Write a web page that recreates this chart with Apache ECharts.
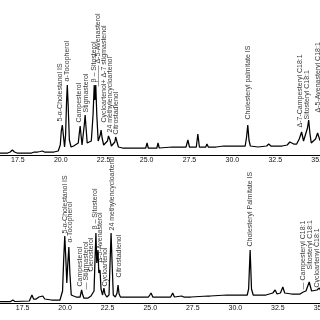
<!DOCTYPE html>
<html>
<head>
<meta charset="utf-8">
<script src="https://cdn.jsdelivr.net/npm/echarts@6/dist/echarts.min.js"></script>
<style>
html,body{margin:0;padding:0;background:#fff;}
#chart{width:320px;height:320px;}
</style>
</head>
<body>
<div id="chart"></div>
<script>
// ---- data (retention time in min, detector response in arbitrary units) ----
const topTrace = [
  [16.4,2],[16.9,2],[17.05,3],[17.18,5],[17.3,3],[17.45,2],[18.3,2],[18.45,3],[18.55,4],[18.65,3],[18.8,3.5],[18.92,4],[19.05,3],[19.6,3],[19.85,4],
  [19.97,10],[20.03,24],[20.09,30],[20.15,20],[20.22,8],
  [20.28,20],[20.34,55],[20.38,70],[20.43,50],[20.5,15],[20.6,8],[20.75,9],
  [21.02,12],[21.08,22],[21.13,29],[21.18,20],[21.24,10],
  [21.30,12],[21.37,30],[21.42,40],[21.47,28],[21.54,12],[21.65,11],[21.78,14],
  [21.88,40],[21.95,70],[21.99,55],[22.04,70],[22.10,40],[22.18,14],[22.24,13],
  [22.30,20],[22.35,25],[22.41,17],[22.50,10],[22.60,10],
  [22.72,14],[22.78,19],[22.82,20],[22.87,15],[22.95,9],[23.05,9],
  [23.15,13],[23.20,18],[23.23,18],[23.28,13],[23.36,8],[23.60,7],[23.80,7],[23.87,9],[23.95,7],
  [24.50,7],[24.95,7],[25.03,12],[25.10,7],[25.60,7],[25.67,12],[25.74,7],[26.50,8],
  [27.30,8],[27.41,15],[27.50,8],[27.90,8],[27.99,21],[28.08,8],[28.45,8],[28.52,11],[28.60,8],
  [28.90,8],[28.98,10],[29.06,8],[29.50,9],[29.56,10],[29.62,9],[29.90,9],[29.97,10],[30.05,9],
  [30.75,9],[30.83,18],[30.90,30],[30.97,15],[31.05,9],[31.50,8],[32.00,9],[32.12,11],[32.25,9],
  [32.90,9],[33.20,10],[33.35,13],[33.46,15],[33.58,11],[33.75,11],[33.90,16],[34.04,23],[34.15,14],
  [34.25,13],[34.38,27],[34.45,35],[34.52,22],[34.60,12],[34.70,10],[34.85,16],[34.97,22],[35.10,15],[35.30,12]
];
const bottomTrace = [
  [16.1,1.5],[16.8,1.5],[16.93,3],[17.05,1.5],[17.9,2],[18.05,8],[18.15,4],[18.3,4],[18.46,6],[18.55,4],[18.69,7],[18.8,4],[19.2,3],[19.7,3],
  [19.85,12],[19.92,45],[19.98,67],[20.04,45],[20.10,20],[20.16,40],[20.22,56],[20.28,30],[20.36,8],[20.42,10],[20.5,7],[20.65,6],
  [20.88,6],[20.93,10],[20.97,13],[21.02,9],[21.10,5],[21.22,5],[21.28,7],[21.35,5],[21.46,5],[21.52,7],[21.60,6],
  [21.70,12],[21.76,45],[21.81,70],[21.86,40],[21.90,48],[21.93,53],[21.98,30],[22.05,33],[22.11,14],[22.20,8],[22.28,15],[22.34,9],[22.45,6],
  [22.58,8],[22.64,40],[22.70,70],[22.76,40],[22.83,8],[22.95,6],[23.05,10],[23.11,18],[23.17,9],[23.25,6],
  [24.0,6],[24.9,6],[25.05,10],[25.15,6],[26.2,6],[26.32,10],[26.42,6],[26.85,7],[26.91,8],[26.97,6],[27.4,6],[27.44,7],[27.5,6],
  [28.4,7],[28.46,8],[28.52,7],[29.5,8],[30.3,8],[30.7,8],[30.78,14],[30.87,53],[30.95,14],[31.05,8],[31.8,8],
  [32.2,10],[32.34,13],[32.45,9],[32.65,10],[32.79,16],[32.9,10],[33.3,9],[33.8,9],[33.99,11],[34.15,12],[34.34,21],[34.48,12],
  [34.58,10],[34.8,13],[34.93,15],[35.1,10],[35.3,10]
];
const topLabelNames = ["5-α-Cholestanol IS","α-Tocopherol","Campesterol","Stigmasterol","β – Sitosterol","——— Δ-5-Avenasterol","Cycloartenol+ Δ-7 stigmastenol","24 methylencycloartenol","Citrostadienol","Cholesteryl palmitate IS","Δ-7-Campesteryl C18:1","Sitosteryl C18:1","Δ-5-Avenasteryl C18:1"];
const topLabelTimes = [19.97,20.38,21.08,21.45,21.95,22.18,22.50,22.85,23.23,30.90,33.92,34.36,34.97];
const topLabelHeights = [33,73,32,42,72,68,32,22,20,35,27,35,42];
const bottomLabelNames = ["5-α-Cholestanol IS","α-Tocopherol","Campesterol","— Stigmasterol","Clerosterol","β – Sitosterol","Δ-5-Avenasterol","Cycloartenol","24 methylencycloartenol","Citrostadienol","Cholesteryl Palmitate IS","— Campesteryl C18:1","Sitosteryl C18:1","Cycloartenyl C18:1"];
const bottomLabelTimes = [20.02,20.28,20.87,21.22,21.52,21.75,22.06,22.32,22.75,23.17,30.87,33.97,34.38,34.80];
const bottomLabelHeights = [69,60,16,13,31,73,40,16,72,25,56,13,33,15];
const tickFormat = v => v.toFixed(1);

// ---- chart ----
const FONT = '"Liberation Sans", Arial, sans-serif';
const chart = echarts.init(document.getElementById('chart'), null, {renderer: 'canvas'});

function labelData(names, times, heights) {
  return names.map((n, i) => ({name: n, value: [times[i], heights[i]]}));
}
function xAxisFor(gridIndex) {
  return {
    type: 'value', gridIndex, min: 15, max: 37.5, interval: 2.5,
    axisLine: {show: true, onZero: false, lineStyle: {color: '#000', width: 1}},
    axisTick: {show: false},
    splitLine: {show: false},
    axisLabel: {margin: 2, fontSize: 7, color: '#111', fontFamily: FONT, formatter: tickFormat, hideOverlap: false}
  };
}
function yAxisFor(gridIndex) {
  return {type: 'value', gridIndex, min: 0, max: 155, show: false, splitLine: {show: false}};
}
function traceSeries(idx, data) {
  return {
    type: 'line', xAxisIndex: idx, yAxisIndex: idx, data,
    showSymbol: false, symbol: 'none', silent: true,
    lineStyle: {color: '#000', width: 1.25}
  };
}
function labelSeries(idx, data) {
  return {
    type: 'scatter', xAxisIndex: idx, yAxisIndex: idx, data,
    symbolSize: 1, itemStyle: {color: 'rgba(0,0,0,0)'}, silent: true,
    label: {
      show: true, position: 'top', distance: 0, rotate: 90,
      align: 'left', verticalAlign: 'middle',
      fontSize: 7, color: '#000', fontFamily: FONT,
      formatter: p => p.name
    },
    labelLayout: {hideOverlap: false}
  };
}

chart.setOption({
  animation: false,
  backgroundColor: '#fff',
  grid: [
    {left: -25, right: -41, top: 0, bottom: 165, outerBoundsMode: 'none', containLabel: false},
    {left: -20, right: -43, top: 148, bottom: 17, outerBoundsMode: 'none', containLabel: false}
  ],
  xAxis: [xAxisFor(0), xAxisFor(1)],
  yAxis: [yAxisFor(0), yAxisFor(1)],
  series: [
    traceSeries(0, topTrace),
    traceSeries(1, bottomTrace),
    labelSeries(0, labelData(topLabelNames, topLabelTimes, topLabelHeights)),
    labelSeries(1, labelData(bottomLabelNames, bottomLabelTimes, bottomLabelHeights))
  ]
});
</script>
</body>
</html>
